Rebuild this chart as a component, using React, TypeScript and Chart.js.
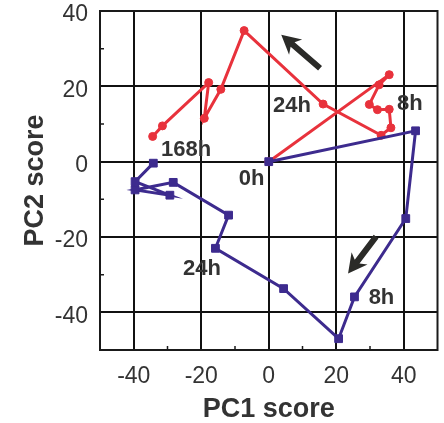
import React, { useEffect, useRef } from "react";
import { Chart, registerables } from "chart.js";

Chart.register(...registerables);

// ---- data ----
const redX = [0, 35.7, 32.7, 29.8, 32.2, 35.7, 36.2, 33.3, 16.1, -7.3, -14.2, -19.1, -17.8, -31.5, -34.4];
const redY = [0, 23.1, 20.4, 15.2, 13.8, 13.9, 9.0, 7.0, 15.3, 34.8, 19.2, 11.5, 21.0, 9.5, 6.7];
const blueX = [0, 43.5, 40.6, 25.4, 20.7, 4.4, -15.8, -11.9, -28.3, -39.6, -29.3, -39.6, -34.2];
const blueY = [0, 8.2, -15.1, -35.9, -47.0, -33.7, -23.0, -14.2, -5.5, -7.5, -8.9, -5.3, -0.4];

const majorTicks = [-40, -20, 0, 20, 40];
const minorTicksX = [-30, -10, 10, 30];
const minorTicksY = [-30, -10, 10, 30];

const labelTexts = ["24h", "8h", "168h", "0h", "24h", "8h"];
const labelX = [6.9, 41.8, -24.5, -5.1, -19.8, 33.4];
const labelY = [14.8, 15.2, 3.1, -4.5, -28.6, -36.3];

const arrowTailX = [15.2, 31.8];
const arrowTailY = [24.8, -19.9];
const arrowTipX = [3.7, 23.5];
const arrowTipY = [33.7, -29.7];

const xTitle = "PC1 score";
const yTitle = "PC2 score";

const RED = "#e8323c";
const BLUE = "#3d2b8e";
const TEXT = "#333333";
const FONT = "'Liberation Sans', Arial, Helvetica, sans-serif";

const overlayPlugin = {
  id: "overlay",
  beforeDatasetsDraw(chart: any) {
    const { ctx, chartArea: a, scales } = chart;
    const xs = scales.x;
    const ys = scales.y;
    ctx.save();
    ctx.strokeStyle = "#1a1a1a";
    ctx.lineWidth = 2;
    ctx.strokeRect(a.left, a.top, a.right - a.left, a.bottom - a.top);
    ctx.lineWidth = 1.5;
    ctx.beginPath();
    minorTicksX.forEach((v) => {
      const px = xs.getPixelForValue(v);
      ctx.moveTo(px, a.bottom);
      ctx.lineTo(px, a.bottom - 4);
    });
    minorTicksY.forEach((v) => {
      const py = ys.getPixelForValue(v);
      ctx.moveTo(a.left, py);
      ctx.lineTo(a.left + 4, py);
    });
    ctx.stroke();
    ctx.restore();
  },
  afterDatasetsDraw(chart: any) {
    const { ctx, chartArea: a, scales } = chart;
    const xs = scales.x;
    const ys = scales.y;
    ctx.save();
    // arrows
    ctx.fillStyle = "#2b2b28";
    for (let i = 0; i < arrowTailX.length; i++) {
      const x0 = xs.getPixelForValue(arrowTailX[i]);
      const y0 = ys.getPixelForValue(arrowTailY[i]);
      const x1 = xs.getPixelForValue(arrowTipX[i]);
      const y1 = ys.getPixelForValue(arrowTipY[i]);
      const ang = Math.atan2(y1 - y0, x1 - x0);
      const len = Math.hypot(x1 - x0, y1 - y0);
      const headL = 19;
      const headW = 10;
      const shaftW = 3;
      ctx.save();
      ctx.translate(x0, y0);
      ctx.rotate(ang);
      ctx.beginPath();
      ctx.moveTo(0, -shaftW);
      ctx.lineTo(len - headL + 4, -shaftW);
      ctx.lineTo(len - headL, -headW);
      ctx.lineTo(len, 0);
      ctx.lineTo(len - headL, headW);
      ctx.lineTo(len - headL + 4, shaftW);
      ctx.lineTo(0, shaftW);
      ctx.closePath();
      ctx.fill();
      ctx.restore();
    }
    // labels
    ctx.fillStyle = TEXT;
    ctx.font = `bold 22px ${FONT}`;
    ctx.textAlign = "center";
    ctx.textBaseline = "middle";
    labelTexts.forEach((t, i) => {
      ctx.fillText(t, xs.getPixelForValue(labelX[i]), ys.getPixelForValue(labelY[i]));
    });
    // axis titles
    ctx.font = `bold 27px ${FONT}`;
    ctx.textBaseline = "alphabetic";
    ctx.fillText(xTitle, (a.left + a.right) / 2, 417);
    ctx.save();
    ctx.translate(43, (a.top + a.bottom) / 2);
    ctx.rotate(-Math.PI / 2);
    ctx.fillText(yTitle, 0, 0);
    ctx.restore();
    ctx.restore();
  },
};

export default function App() {
  const ref = useRef<HTMLCanvasElement | null>(null);
  useEffect(() => {
    document.body.style.margin = "0";
    const canvas = ref.current!;
    const chart = new Chart(canvas, {
      type: "scatter",
      data: {
        datasets: [
          {
            label: "blue",
            data: blueX.map((x, i) => ({ x, y: blueY[i] })),
            showLine: true,
            borderColor: BLUE,
            backgroundColor: BLUE,
            borderWidth: 3,
            pointStyle: "rect",
            pointRadius: 5.5,
            pointBorderWidth: 1,
            pointBackgroundColor: BLUE,
            pointBorderColor: BLUE,
          },
          {
            label: "red",
            data: redX.map((x, i) => ({ x, y: redY[i] })),
            showLine: true,
            borderColor: RED,
            backgroundColor: RED,
            borderWidth: 3,
            pointStyle: "circle",
            pointRadius: 4,
            pointBorderWidth: 1,
            pointBackgroundColor: RED,
            pointBorderColor: RED,
          },
        ],
      },
      options: {
        animation: false,
        responsive: false,
        layout: { padding: { left: 0, right: 4, top: 11, bottom: 0 } },
        plugins: { legend: { display: false }, tooltip: { enabled: false } },
        scales: {
          x: {
            type: "linear",
            min: -50,
            max: 50,
            afterBuildTicks: (s: any) => {
              s.ticks = majorTicks.map((v) => ({ value: v }));
            },
            afterFit: (s: any) => {
              s.height = 73;
              s.paddingLeft = 0;
              s.paddingRight = 0;
            },
            grid: { color: "#111", lineWidth: 2, drawTicks: false },
            border: { display: false },
            ticks: {
              padding: 13,
              color: TEXT,
              font: { family: FONT, size: 23 },
              maxRotation: 0,
            },
          },
          y: {
            type: "linear",
            min: -50,
            max: 40,
            afterBuildTicks: (s: any) => {
              s.ticks = majorTicks.map((v) => ({ value: v }));
            },
            afterFit: (s: any) => {
              s.width = 100;
              s.paddingTop = 0;
              s.paddingBottom = 0;
            },
            grid: { color: "#111", lineWidth: 2, drawTicks: false },
            border: { display: false },
            ticks: {
              padding: 12,
              labelOffset: 4,
              color: TEXT,
              font: { family: FONT, size: 23 },
            },
          },
        },
      },
      plugins: [overlayPlugin],
    } as any);
    return () => chart.destroy();
  }, []);
  return (
    <div style={{ position: "fixed", left: 0, top: 0, width: 444, height: 423, background: "#fff" }}>
      <canvas ref={ref} width={444} height={423} />
    </div>
  );
}
